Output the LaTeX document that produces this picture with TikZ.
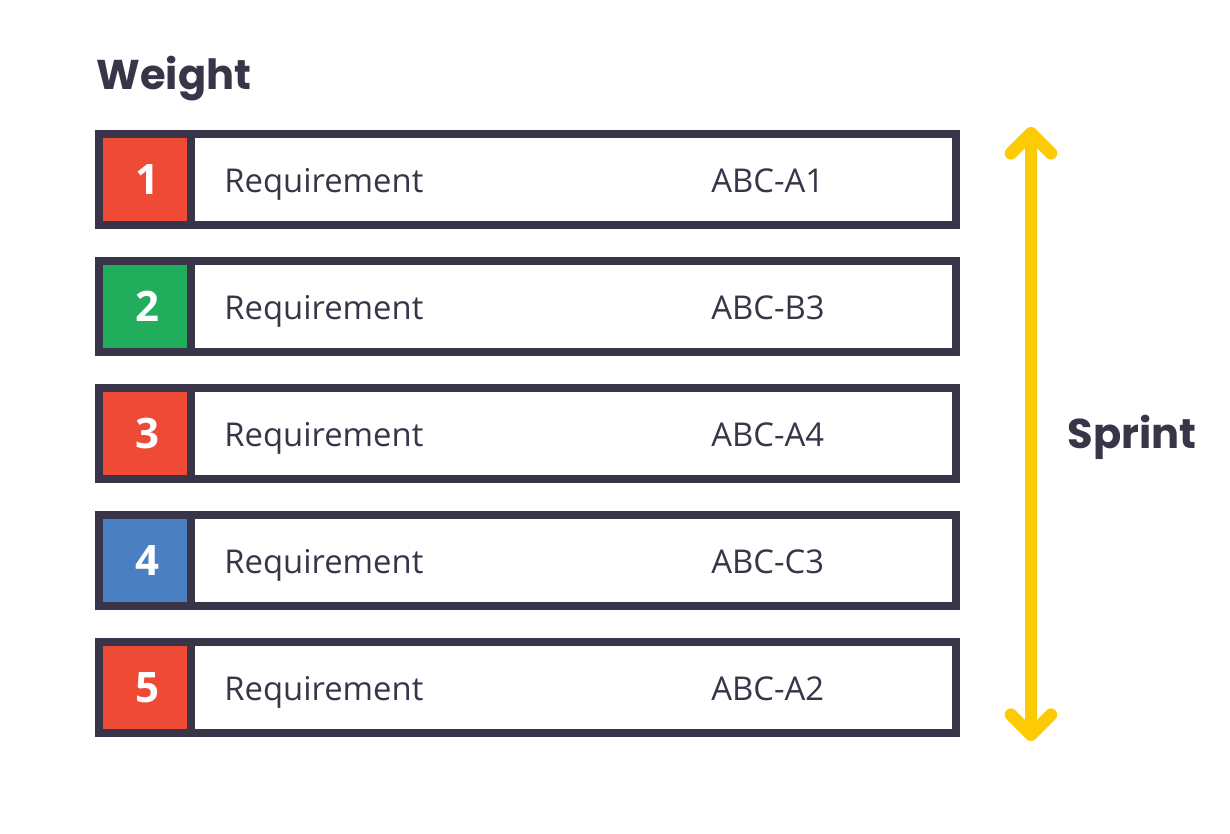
\documentclass[tikz,border=0pt]{standalone}
\usepackage{fontspec}
\setmainfont{Open Sans}
\newfontfamily\headfont{Poppins}
\usetikzlibrary{arrows.meta, positioning}
\definecolor{ink}{HTML}{3A3449}
\definecolor{wred}{HTML}{EF4A36}
\definecolor{wgreen}{HTML}{22AD5C}
\definecolor{wblue}{HTML}{4A7FC1}
\definecolor{sprintYellow}{HTML}{FDCB05}

\begin{document}
\begin{tikzpicture}
	[
		x=0.5pt, y=-0.5pt,
		rowBox/.style={
				rectangle,
				minimum width=428.5pt,
				minimum height=45.5pt,
				line width=4pt,
				draw=ink,
				fill=white,
				inner sep=0pt,
				outer sep=0pt,
			},
		weightBox/.style={
				rectangle,
				minimum width=46pt,
				minimum height=45.5pt,
				line width=4pt,
				draw=ink,
				inner sep=0pt,
				outer sep=0pt,
				text=white,
				font=\fontsize{21}{24}\selectfont\bfseries,
			},
		reqText/.style={
				inner sep=0pt,
				text=ink,
				font=\fontsize{16.4}{20}\selectfont,
			},
		headText/.style={
				inner sep=0pt,
				text=ink,
				font=\headfont\fontsize{20.8}{24}\selectfont\bfseries,
			},
		sprintArrow/.style={
				draw=sprintYellow,
				line width=6.3pt,
				line cap=round,
				line join=round,
				{Straight Barb[length=10pt, width=20pt, round]}-{Straight Barb[length=10pt, width=20pt, round]},
			},
	]
	\useasboundingbox (0,0) rectangle (1230,834);

	\node [headText, anchor=base west] (weightHead) at (96,90) {Weight};

	\foreach \n/\c/\code in {1/wred/A1, 2/wgreen/B3, 3/wred/A4, 4/wblue/C3, 5/wred/A2} {
		\node [rowBox] (row\n) at (527.5,{179.5+127*(\n-1)}) {};
		\node [weightBox, fill=\c, anchor=west] (weight\n) at (row\n.west) {\hspace{2pt}\n};
		\node [reqText, anchor=base west] (req\n) at (224,{192+127*(\n-1)}) {Requirement};
		\node [reqText, anchor=base west] (code\n) at (711,{192+127*(\n-1)}) {ABC-\code};
	}

	% sprint span
	\coordinate (sprintTop) at (1031,127);
	\coordinate (sprintBottom) at (1031,741);
	\draw [sprintArrow] (sprintTop) -- (sprintBottom);
	\node [headText, anchor=base west] (sprintLabel) at (1067,448) {Sprint};
\end{tikzpicture}
\end{document}
